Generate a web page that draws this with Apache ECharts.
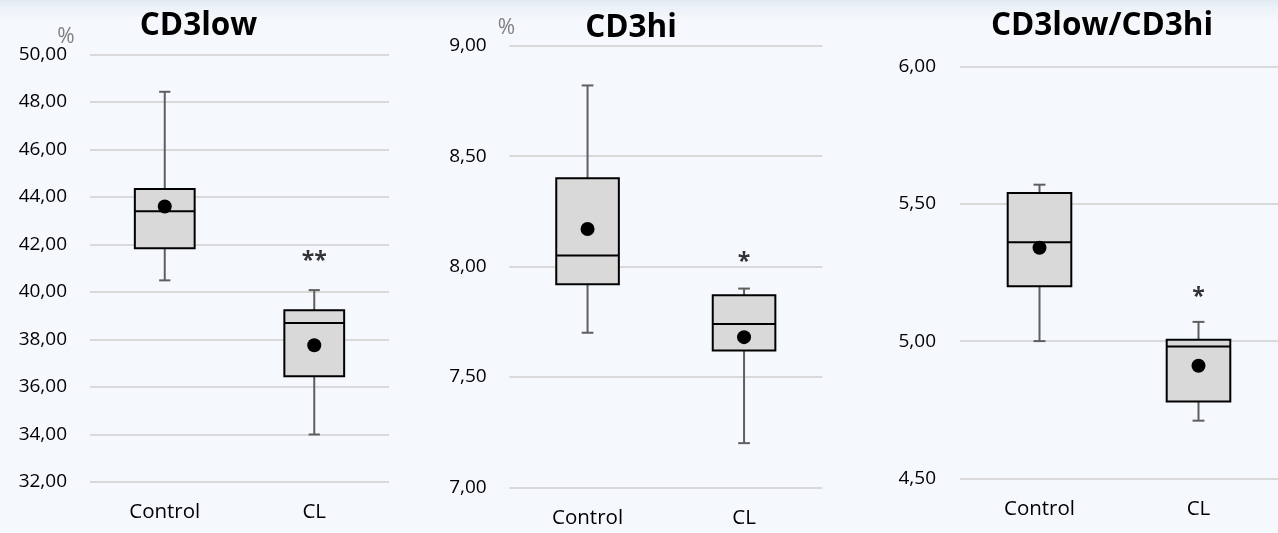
<!DOCTYPE html>
<html>
<head>
<meta charset="utf-8">
<script src="https://cdn.jsdelivr.net/npm/echarts@6/dist/echarts.min.js"></script>
<style>
  html, body { margin: 0; padding: 0; background: #F5F8FC; }
  #chart { width: 1278px; height: 533px; }
</style>
</head>
<body>
<div id="chart"></div>
<script>
// Groups on the category axis
const categories = ['Control', 'CL'];

// Panel titles
const titles = ['CD3low', 'CD3hi', 'CD3low/CD3hi'];

// Box statistics per panel: [whiskerLow, q1, median, q3, whiskerHigh] for Control and CL
const cd3lowBoxes = [
  [40.49, 41.84, 43.40, 44.34, 48.43],
  [34.00, 36.45, 38.69, 39.23, 40.08]
];
const cd3hiBoxes = [
  [7.70, 7.92, 8.05, 8.40, 8.82],
  [7.20, 7.62, 7.74, 7.87, 7.90]
];
const ratioBoxes = [
  [5.00, 5.20, 5.36, 5.54, 5.57],
  [4.71, 4.78, 4.98, 5.005, 5.07]
];

// Group means
const cd3lowMeans = [43.60, 37.76];
const cd3hiMeans = [8.17, 7.68];
const ratioMeans = [5.34, 4.91];

// Significance marks (shown over CL) and the value they sit at
const sigMarks = ['**', '*', '*'];
const sigLevels = [41.30, 8.02, 5.16];

// Value axis ranges: [min, max, interval]
const axisRanges = [
  [32, 50, 2],
  [7, 9, 0.5],
  [4.5, 6, 0.5]
];

const panelBoxes = [cd3lowBoxes, cd3hiBoxes, ratioBoxes];
const panelMeans = [cd3lowMeans, cd3hiMeans, ratioMeans];

// Plot areas for the three panels
const grids = [
  { left: 90, top: 54.5, width: 299, height: 427.5 },
  { left: 509.3, top: 45.7, width: 313, height: 441.6 },
  { left: 960, top: 66.7, width: 320.6, height: 411.6 }
];
const labelMargins = [23, 22.6, 24];

// Title and unit label placements
const titlePos = [
  { x: 198.5, y: 26 },
  { x: 631, y: 28 },
  { x: 1102, y: 26 }
];
const unitPos = [
  { x: 66, y: 37 },
  { x: 506.5, y: 28.5 },
  null
];

const fmt = v => v.toFixed(2).replace('.', ',');

function boxRenderer(params, api) {
  const xi = api.value(0);
  const lo = api.coord([xi, api.value(1)]);
  const q1 = api.coord([xi, api.value(2)]);
  const med = api.coord([xi, api.value(3)]);
  const q3 = api.coord([xi, api.value(4)]);
  const hi = api.coord([xi, api.value(5)]);
  const band = api.size([1, 0])[0];
  const bw = band * 0.40;
  const cw = band * 0.075;
  const cx = lo[0];
  const whisker = { stroke: '#5F5F5F', lineWidth: 2 };
  return {
    type: 'group',
    children: [
      { type: 'line', shape: { x1: cx, y1: hi[1], x2: cx, y2: q3[1] }, style: whisker },
      { type: 'line', shape: { x1: cx - cw / 2, y1: hi[1], x2: cx + cw / 2, y2: hi[1] }, style: whisker },
      { type: 'line', shape: { x1: cx, y1: q1[1], x2: cx, y2: lo[1] }, style: whisker },
      { type: 'line', shape: { x1: cx - cw / 2, y1: lo[1], x2: cx + cw / 2, y2: lo[1] }, style: whisker },
      {
        type: 'rect',
        shape: { x: cx - bw / 2, y: q3[1], width: bw, height: q1[1] - q3[1] },
        style: { fill: '#D9D9D9', stroke: '#000000', lineWidth: 2 }
      },
      { type: 'line', shape: { x1: cx - bw / 2, y1: med[1], x2: cx + bw / 2, y2: med[1] }, style: { stroke: '#000000', lineWidth: 2 } }
    ]
  };
}

const gridOpts = [], xAxes = [], yAxes = [], series = [], titleOpts = [], graphics = [];

// Soft blue band along the top edge of the slide
graphics.push({
  type: 'rect', z: -10, silent: true,
  shape: { x: 0, y: 0, width: 1278, height: 24 },
  style: {
    fill: new echarts.graphic.LinearGradient(0, 0, 0, 1, [
      { offset: 0, color: '#E1E9F3' },
      { offset: 1, color: 'rgba(245,248,252,0)' }
    ])
  }
});

for (let p = 0; p < 3; p++) {
  gridOpts.push(grids[p]);
  xAxes.push({
    type: 'category',
    gridIndex: p,
    data: categories,
    boundaryGap: true,
    axisLine: { show: false },
    axisTick: { show: false },
    axisLabel: { color: '#000000', fontFamily: 'Open Sans', fontSize: 20.5, margin: 20 }
  });
  const r = axisRanges[p];
  yAxes.push({
    type: 'value',
    gridIndex: p,
    min: r[0],
    max: r[1],
    interval: r[2],
    axisLine: { show: false },
    axisTick: { show: false },
    splitLine: { lineStyle: { color: '#D9D9D9', width: 2 } },
    axisLabel: {
      color: '#000000', fontFamily: 'Open Sans', fontSize: 19,
      margin: labelMargins[p], formatter: fmt
    }
  });

  const boxes = panelBoxes[p];
  series.push({
    type: 'custom',
    xAxisIndex: p,
    yAxisIndex: p,
    renderItem: boxRenderer,
    encode: { x: 0, y: [1, 2, 3, 4, 5] },
    data: boxes.map((b, i) => [i].concat(b)),
    z: 2
  });
  series.push({
    type: 'scatter',
    xAxisIndex: p,
    yAxisIndex: p,
    symbol: 'circle',
    symbolSize: 14,
    itemStyle: { color: '#000000', opacity: 1 },
    data: panelMeans[p].map((m, i) => [i, m]),
    z: 3
  });
  series.push({
    type: 'scatter',
    xAxisIndex: p,
    yAxisIndex: p,
    symbolSize: 0,
    data: [[1, sigLevels[p]]],
    label: {
      show: true,
      position: 'inside',
      formatter: sigMarks[p],
      color: '#000000',
      fontFamily: 'Open Sans',
      fontWeight: 'bold',
      fontSize: 23
    },
    z: 4
  });

  titleOpts.push({
    text: titles[p],
    left: titlePos[p].x,
    top: titlePos[p].y,
    padding: 0,
    textAlign: 'center',
    textVerticalAlign: 'middle',
    textStyle: { fontFamily: 'Open Sans', fontWeight: 'bold', fontSize: 31.5, color: '#000000' }
  });

  if (unitPos[p]) {
    graphics.push({
      type: 'text',
      x: unitPos[p].x,
      y: unitPos[p].y,
      style: {
        text: '%', fill: '#7F7F7F', fontSize: 21, fontFamily: 'Open Sans',
        align: 'center', verticalAlign: 'middle'
      }
    });
  }
}

const chart = echarts.init(document.getElementById('chart'), null, { renderer: 'canvas' });
chart.setOption({
  backgroundColor: 'transparent',
  animation: false,
  title: titleOpts,
  grid: gridOpts,
  xAxis: xAxes,
  yAxis: yAxes,
  series: series,
  graphic: graphics
});
</script>
</body>
</html>
